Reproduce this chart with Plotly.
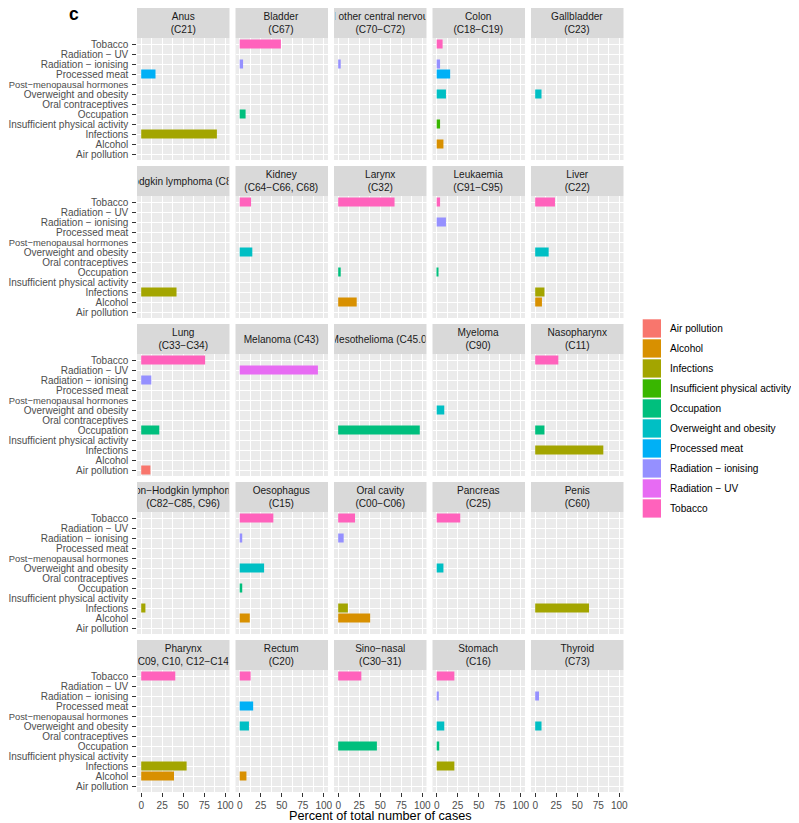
import plotly.graph_objects as go

# ---------------- data ----------------
sites = [
    "Anus<br>(C21)", "Bladder<br>(C67)", "Brain and other central nervous system<br>(C70−C72)",
    "Colon<br>(C18−C19)", "Gallbladder<br>(C23)",
    "Hodgkin lymphoma (C81)", "Kidney<br>(C64−C66, C68)", "Larynx<br>(C32)",
    "Leukaemia<br>(C91−C95)", "Liver<br>(C22)",
    "Lung<br>(C33−C34)", "Melanoma (C43)", "Mesothelioma (C45.0)", "Myeloma<br>(C90)",
    "Nasopharynx<br>(C11)",
    "Non−Hodgkin lymphoma<br>(C82−C85, C96)", "Oesophagus<br>(C15)", "Oral cavity<br>(C00−C06)",
    "Pancreas<br>(C25)", "Penis<br>(C60)",
    "Pharynx<br>(C09, C10, C12−C14)", "Rectum<br>(C20)", "Sino−nasal<br>(C30−31)",
    "Stomach<br>(C16)", "Thyroid<br>(C73)",
]

# y axis categories, bottom to top
categories = [
    "Air pollution", "Alcohol", "Infections", "Insufficient physical activity",
    "Occupation", "Oral contraceptives", "Overweight and obesity",
    "Post−menopausal hormones", "Processed meat", "Radiation − ionising",
    "Radiation − UV", "Tobacco",
]

legend_factors = [
    "Air pollution", "Alcohol", "Infections", "Insufficient physical activity",
    "Occupation", "Overweight and obesity", "Processed meat",
    "Radiation − ionising", "Radiation − UV", "Tobacco",
]
factor_colors = [
    "#F8766D", "#D89000", "#A3A500", "#39B600", "#00BF7D",
    "#00BFC4", "#00B0F6", "#9590FF", "#E76BF3", "#FF62BC",
]

# percent of cases per site (same order as sites)
air_pollution = [0, 0, 0, 0, 0, 0, 0, 0, 0, 0, 11, 0, 0, 0, 0, 0, 0, 0, 0, 0, 0, 0, 0, 0, 0]
alcohol = [0, 0, 0, 8, 0, 0, 0, 22, 0, 8, 0, 0, 0, 0, 0, 0, 12, 38, 0, 0, 39, 8, 0, 0, 0]
infections = [90, 0, 0, 0, 0, 42, 0, 0, 0, 11, 0, 0, 0, 0, 81, 5, 0, 11.5, 0, 64, 54, 0, 0, 21, 0]
physical_activity = [0, 0, 0, 4, 0, 0, 0, 0, 0, 0, 0, 0, 0, 0, 0, 0, 0, 0, 0, 0, 0, 0, 0, 0, 0]
occupation = [0, 7, 0, 0, 0, 0, 0, 3, 1, 0, 21.5, 0, 97, 0, 11, 0, 3, 0, 0, 0, 0, 0, 46, 3, 0]
overweight = [0, 0, 0, 11, 7.5, 0, 15, 0, 0, 16, 0, 0, 0, 9, 0, 0, 29, 0, 8, 0, 0, 11, 0, 9, 7.5]
processed_meat = [17, 0, 0, 16, 0, 0, 0, 0, 0, 0, 0, 0, 0, 0, 0, 0, 0, 0, 0, 0, 0, 16, 0, 0, 0]
radiation_ionising = [0, 4, 3, 4, 0, 0, 0, 0, 11, 0, 12, 0, 0, 0, 0, 0, 3, 6.5, 0, 0, 0, 0, 0, 2.5, 4.5]
radiation_uv = [0, 0, 0, 0, 0, 0, 0, 0, 0, 0, 0, 93, 0, 0, 0, 0, 0, 0, 0, 0, 0, 0, 0, 0, 0]
tobacco = [0, 49, 0, 7, 0, 0, 13.5, 67, 4, 23.5, 76, 0, 0, 0, 27.5, 0, 40, 20, 28, 0, 40.5, 13, 27.5, 21, 0]

factor_values = [
    air_pollution, alcohol, infections, physical_activity, occupation,
    overweight, processed_meat, radiation_ionising, radiation_uv, tobacco,
]

x_ticks = [0, 25, 50, 75, 100]

# ---------------- layout geometry (page pixels) ----------------
OFF = 8                      # page body margin around the plot div
W, H = 799 - OFF, 823 - OFF  # figure size
col_left = [137, 235.5, 334, 432.5, 531]
panel_w = 92.5
row_top = [38, 196, 354, 512, 670]
panel_h = 122
strip_h = 30

def px(x):
    return (x - OFF) / W

def py(y):
    return 1 - (y - OFF) / H

FONT = "Liberation Sans, Arial, Helvetica, sans-serif"
FS = 10.1

# the longest category label is set a touch smaller so it fits at the page edge
y_ticktext = [
    ('<span style="font-size:9.4px">' + t + "</span>") if len(t) > 22 and "−" in t else t
    for t in categories
]

fig = go.Figure()

def ax_id(n):
    return "" if n == 1 else str(n)

# bars
for f, name in enumerate(legend_factors):
    for s in range(len(sites)):
        v = factor_values[f][s]
        if v <= 0:
            continue
        n = s + 1
        fig.add_trace(go.Bar(
            x=[v], y=[name], orientation="h", width=0.9,
            marker=dict(color=factor_colors[f], line=dict(width=0)),
            name=name, legendgroup=name, showlegend=False,
            xaxis="x" + ax_id(n), yaxis="y" + ax_id(n),
        ))

shapes = []
annotations = []
layout_axes = {}
for s, site in enumerate(sites):
    r, c = divmod(s, 5)
    n = s + 1
    x0 = px(col_left[c])
    x1 = px(col_left[c] + panel_w)
    y0 = py(row_top[r] + panel_h)
    y1 = py(row_top[r])
    layout_axes["xaxis" + ax_id(n)] = dict(
        domain=[x0, x1], anchor="y" + ax_id(n), range=[-5, 105],
        tickvals=x_ticks, ticktext=[str(t) for t in x_ticks],
        showticklabels=(r == 4), ticks="outside" if r == 4 else "",
        ticklen=3.5, tickwidth=1, tickcolor="#333333",
        tickfont=dict(size=FS, color="#4D4D4D", family=FONT),
        showgrid=True, gridcolor="white", gridwidth=1.1,
        minor=dict(tick0=0, dtick=12.5, showgrid=True, gridcolor="white", gridwidth=0.5),
        zeroline=False, showline=False, automargin=False, fixedrange=True,
    )
    layout_axes["yaxis" + ax_id(n)] = dict(
        domain=[y0, y1], anchor="x" + ax_id(n), type="category",
        categoryorder="array", categoryarray=categories,
        tickvals=categories, ticktext=y_ticktext,
        range=[-0.6, len(categories) - 0.4],
        showticklabels=(c == 0), ticks="outside" if c == 0 else "",
        ticklen=3.7, tickwidth=1, tickcolor="#333333", ticklabelstandoff=2,
        tickfont=dict(size=10.0, color="#4D4D4D", family=FONT),
        showgrid=True, gridcolor="white", gridwidth=1.1,
        zeroline=False, showline=False, automargin=False, fixedrange=True,
    )
    sy1 = py(row_top[r] - strip_h)
    shapes.append(dict(
        type="rect", xref="paper", yref="paper", x0=x0, x1=x1, y0=y1, y1=sy1,
        fillcolor="#D9D9D9", line=dict(width=0), layer="below",
    ))
    annotations.append(dict(
        text=site, xref="paper", yref="paper", x=(x0 + x1) / 2, y=(y1 + sy1) / 2,
        xanchor="center", yanchor="middle", showarrow=False,
        width=panel_w - 2, borderpad=0, align="center",
        font=dict(size=FS, color="#1A1A1A", family=FONT),
    ))

# legend (drawn as keys + labels, ggplot style)
leg_x0, leg_top, key, step = 642.7, 319.3, 18.3, 20
for i, (name, col) in enumerate(zip(legend_factors, factor_colors)):
    top = leg_top + i * step
    shapes.append(dict(
        type="rect", xref="paper", yref="paper",
        x0=px(leg_x0), x1=px(leg_x0 + key),
        y0=py(top + key), y1=py(top),
        fillcolor=col, line=dict(width=0),
    ))
    annotations.append(dict(
        text=name, xref="paper", yref="paper", x=px(668), y=py(top + key / 2),
        xanchor="left", yanchor="middle", showarrow=False,
        font=dict(size=FS, color="black", family=FONT),
    ))

annotations.append(dict(
    text="Percent of total number of cases", xref="paper", yref="paper",
    x=px((col_left[0] + col_left[4] + panel_w) / 2), y=py(816),
    xanchor="center", yanchor="middle", showarrow=False,
    font=dict(size=12.7, color="black", family=FONT),
))
annotations.append(dict(
    text="<b>c</b>", xref="paper", yref="paper", x=px(67), y=py(2),
    xanchor="left", yanchor="top", showarrow=False,
    font=dict(size=17.5, color="black", family=FONT),
))

fig.update_layout(
    width=W, height=H, template="none",
    margin=dict(l=0, r=0, t=0, b=0, pad=0),
    paper_bgcolor="white", plot_bgcolor="#EBEBEB",
    font=dict(family=FONT, size=FS, color="#1A1A1A"),
    shapes=shapes, annotations=annotations,
    barmode="overlay", showlegend=False,
    **layout_axes,
)

fig.write_html("out.html")
